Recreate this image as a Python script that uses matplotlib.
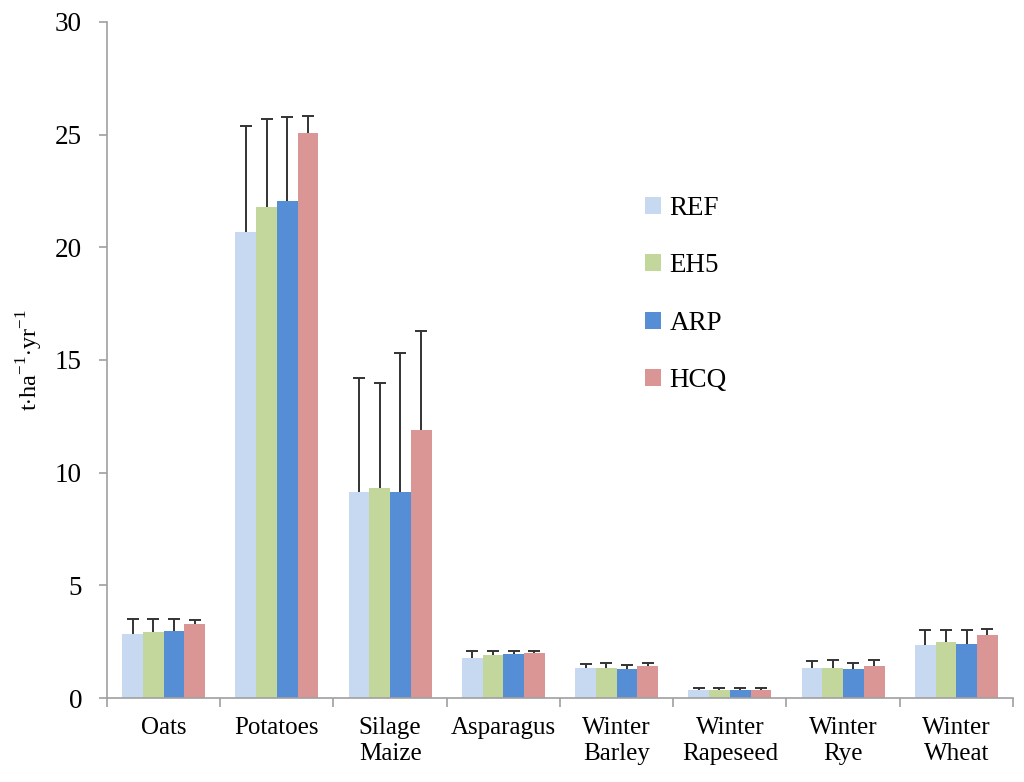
import numpy as np
import matplotlib.pyplot as plt
from matplotlib.patches import Patch

plt.rcParams['font.family'] = ['Liberation Serif', 'DejaVu Serif']
plt.rcParams['mathtext.fontset'] = 'custom'
plt.rcParams['mathtext.rm'] = 'Liberation Serif'

# dados
categories = ['Oats', 'Potatoes', 'Silage\nMaize', 'Asparagus', 'Winter\nBarley',
              'Winter\nRapeseed', 'Winter\nRye', 'Winter\nWheat']
series = ['REF', 'EH5', 'ARP', 'HCQ']
colors = ['#c6d9f1', '#c3d69b', '#558ed5', '#d99694']

ref = [2.84, 20.70, 9.12, 1.79, 1.35, 0.36, 1.35, 2.34]
eh5 = [2.93, 21.78, 9.30, 1.91, 1.35, 0.36, 1.35, 2.47]
arp = [2.97, 22.04, 9.12, 1.97, 1.29, 0.36, 1.29, 2.38]
hcq = [3.28, 25.06, 11.91, 2.01, 1.42, 0.36, 1.42, 2.78]

# desvio (so a parte de cima aparece)
ref_err = [0.65, 4.70, 5.08, 0.30, 0.16, 0.07, 0.31, 0.69]
eh5_err = [0.57, 3.92, 4.67, 0.18, 0.20, 0.10, 0.35, 0.56]
arp_err = [0.53, 3.76, 6.21, 0.12, 0.16, 0.07, 0.25, 0.65]
hcq_err = [0.18, 0.76, 4.37, 0.08, 0.12, 0.10, 0.28, 0.30]

values = [ref, eh5, arp, hcq]
errors = [ref_err, eh5_err, arp_err, hcq_err]

fig = plt.figure(figsize=(10.24, 7.82), dpi=100)
ax = fig.add_axes([0.1045, 0.1074, 0.8847, 0.8645])

x = np.arange(len(categories))
w = 0.183
for i in range(4):
    pos = x + (i - 1.5) * w
    vals = np.array(values[i])
    tops = vals + np.array(errors[i])
    ax.bar(pos, vals, width=w, color=colors[i], edgecolor='none', zorder=2)
    # barra de erro so para cima, com o traço no topo
    ax.vlines(pos, vals, tops, color='#333333', lw=1.4, zorder=3)
    ax.plot(pos, tops, ls='none', marker='_', ms=8, mew=1.4, color='#333333', zorder=3)

ax.set_xlim(-0.5, len(categories) - 0.5)
ax.set_ylim(0, 30)
ax.set_yticks(range(0, 31, 5))
ax.set_xticks(x)
ax.set_xticklabels(categories, fontsize=18, linespacing=1.2)
ax.set_xticks(np.arange(-0.5, len(categories)), minor=True)
ax.tick_params(axis='x', which='major', length=0, pad=14)
ax.tick_params(axis='x', which='minor', length=6.5, color='#a0a0a0', width=1.2)
ax.tick_params(axis='y', labelsize=19.5, length=6, color='#a0a0a0', width=1.2, pad=12)

for s in ['top', 'right']:
    ax.spines[s].set_visible(False)
for s in ['left', 'bottom']:
    ax.spines[s].set_color('#a0a0a0')
    ax.spines[s].set_linewidth(1.2)

ax.set_ylabel(r't$\cdot$ha$^{\mathregular{-1}}$$\cdot$yr$^{\mathregular{-1}}$', fontsize=17.5, labelpad=7)

handles = [Patch(facecolor=c, edgecolor='none') for c in colors]
ax.legend(handles, series, loc='center left', bbox_to_anchor=(0.594, 0.597),
          frameon=False, fontsize=19.5, handlelength=0.6, handleheight=0.6,
          handletextpad=0.3, labelspacing=1.2, borderpad=0, borderaxespad=0)

fig.savefig('out.png', dpi=100)
